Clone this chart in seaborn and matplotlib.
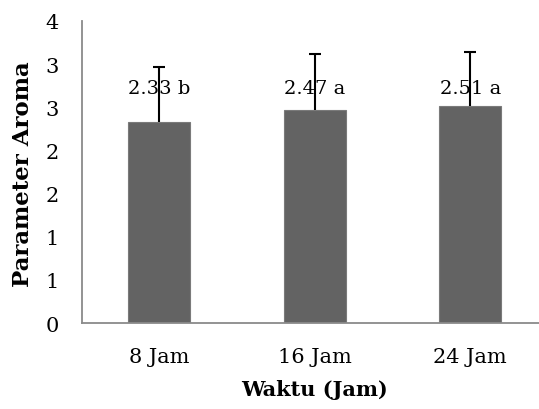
import matplotlib
matplotlib.use("Agg")
import matplotlib.pyplot as plt
import seaborn as sns
import pandas as pd
import numpy as np

categories = ["8 Jam", "16 Jam", "24 Jam"]
values = [2.33, 2.47, 2.51]
errors = [0.64, 0.65, 0.63]
labels = ["2.33 b", "2.47 a", "2.51 a"]
yticks = [0, 0.5, 1, 1.5, 2, 2.5, 3, 3.5]
ytick_labels = ["0", "1", "1", "2", "2", "3", "3", "4"]

sns.set_theme(style="white")
plt.rcParams['font.family'] = ['DejaVu Serif']
plt.rcParams['text.color'] = 'black'
plt.rcParams['xtick.color'] = 'black'
plt.rcParams['ytick.color'] = 'black'
plt.rcParams['axes.labelcolor'] = 'black'

W, H = 539, 410
fig = plt.figure(figsize=(W / 100, H / 100), dpi=100)
left_px, right_px, top_px, bot_px = 81.5, 548.0, 22.0, 324.0
ax = fig.add_axes([left_px / W, 1 - bot_px / H, (right_px - left_px) / W, (bot_px - top_px) / H])

df = pd.DataFrame({"Waktu": categories, "Nilai": values})
sns.barplot(data=df, x="Waktu", y="Nilai", color="#636363", width=0.4,
            saturation=1, ax=ax, edgecolor="#7a7a7a", linewidth=0.8, errorbar=None)

xs = np.arange(len(categories))
cont = ax.errorbar(xs, values, yerr=[np.zeros(len(errors)), errors], fmt="none",
                   ecolor="black", elinewidth=1.5, capsize=4, capthick=1.5, zorder=5)
# only the upper cap (plus-direction error bar)
caplines = cont.lines[1]
if len(caplines) >= 2:
    caplines[0].set_visible(False)

fs = 15
for x, lab in zip(xs, labels):
    ax.text(x, 2.72, lab, ha="center", va="center", fontsize=14, zorder=6)

ax.set_ylim(0, 3.5)
ax.set_xlim(-0.5, 2.5)
ax.set_yticks(yticks)
ax.set_yticklabels(ytick_labels, fontsize=fs)
ax.set_xticks(xs)
ax.set_xticklabels(categories, fontsize=fs)
ax.tick_params(axis="x", length=0, pad=17)
ax.tick_params(axis="y", length=0, pad=21)
for lbl in ax.get_yticklabels():
    lbl.set_horizontalalignment("center")

ax.set_xlabel("Waktu (Jam)", fontsize=fs, fontweight="bold", va="center")
ax.set_ylabel("Parameter Aroma", fontsize=16.5, fontweight="bold", va="center")
ax_h = bot_px - top_px
ax_w = right_px - left_px
ax.xaxis.set_label_coords(0.5, -(390 - bot_px) / ax_h)
ax.yaxis.set_label_coords(-(left_px - 23) / ax_w, 1 - (174 - top_px) / ax_h)

for s in ["top", "right"]:
    ax.spines[s].set_visible(False)
for s in ["left", "bottom"]:
    ax.spines[s].set_color("#8a8a8a")
    ax.spines[s].set_linewidth(1.3)

fig.savefig("out.png", dpi=100)
